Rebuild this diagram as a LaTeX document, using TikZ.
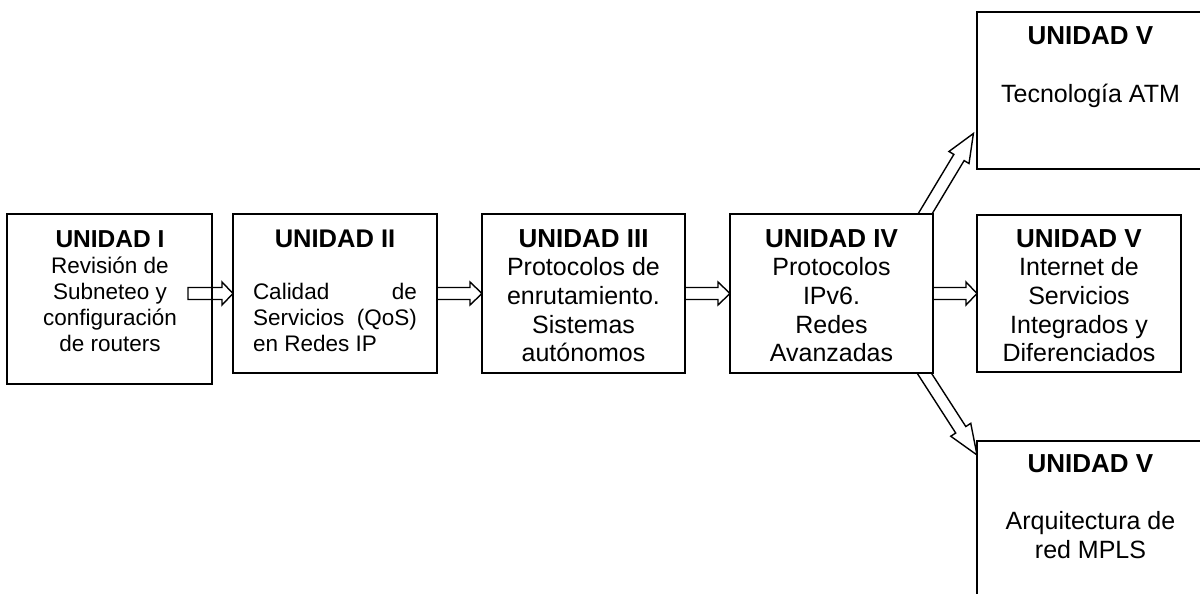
\documentclass[tikz,border=0pt]{standalone}
\usepackage{fontspec}
\setmainfont{Liberation Sans}
\usetikzlibrary{calc,backgrounds}
\newcommand\ttl[2][26]{\hbox to 0pt{\hss\fontsize{#1}{30}\selectfont\bfseries #2\hss}}
\newcommand\bl[1]{\hbox to 0pt{\hss #1\hss}}
\newcommand\blankline{\hbox{}}
\newcommand\blockarrow[5]{%
  \path ($(#2)!#5!(#1)$) coordinate (bab);
  \draw[barrow] ($(#1)!#3!90:(#2)$) -- ($(bab)!#3!-90:(#1)$) -- ($(bab)!#4!-90:(#1)$) -- (#2)
    -- ($(bab)!#4!90:(#1)$) -- ($(bab)!#3!90:(#1)$) -- ($(#1)!#3!-90:(#2)$) -- cycle;}
\begin{document}
\begin{tikzpicture}[x=1pt,y=-1pt,
  ubox/.style={draw, line width=1.8pt, fill=white, inner sep=0pt, outer sep=0pt},
  utext/.style={anchor=base, inner sep=0pt, outer sep=0pt},
  barrow/.style={draw, line width=1.4pt, fill=white, line join=miter}]
\useasboundingbox (0,0) rectangle (1200,594);
\clip (0,0) rectangle (1200,594);
% boxes
\node[ubox, fill=none, minimum width=205pt, minimum height=170pt] (u1) at (109.5,299) {};
\node[ubox, minimum width=204pt, minimum height=159pt] (u2) at (335,293.5) {};
\node[ubox, minimum width=203pt, minimum height=159pt] (u3) at (583.5,293.5) {};
\node[ubox, minimum width=203pt, minimum height=159pt] (u4) at (831.5,293.5) {};
\node[ubox, minimum width=227pt, minimum height=157pt] (u5a) at (1090.5,90.5) {};
\node[ubox, minimum width=204pt, minimum height=157pt] (u5b) at (1079,293.5) {};
\node[ubox, minimum width=227pt, minimum height=160pt] (u5c) at (1090.5,521) {};
% texts
\node[utext] (u1t) at (110,247) {\vtop{\fontsize{22.5}{26}\selectfont
  \ttl[24.5]{UNIDAD I}\bl{Revisión de}\bl{Subneteo y}\bl{configuración}\bl{de routers}}};
\node[utext] (u2t) at (335,247) {\vtop{\fontsize{22.5}{26}\selectfont
  \ttl[25.5]{UNIDAD II}\blankline
  \bl{\hbox to 164pt{Calidad\hfill de}}
  \bl{\hbox to 164pt{Servicios\hfill (QoS)}}
  \bl{\hbox to 164pt{en Redes IP\hfill}}}};
\node[utext] (u3t) at (583.5,247) {\vtop{\fontsize{25}{28.7}\selectfont
  \ttl{UNIDAD III}\bl{Protocolos de}\bl{enrutamiento.}\bl{Sistemas}\bl{autónomos}}};
\node[utext] (u4t) at (831.5,247) {\vtop{\fontsize{25}{28.7}\selectfont
  \ttl{UNIDAD IV}\bl{Protocolos}\bl{IPv6.}\bl{Redes}\bl{Avanzadas}}};
\node[utext] (u5at) at (1090.5,45) {\vtop{\fontsize{25}{28.7}\selectfont
  \ttl{UNIDAD V}\blankline\bl{Tecnología ATM}}};
\node[utext] (u5bt) at (1079,247) {\vtop{\fontsize{25}{28.7}\selectfont
  \ttl{UNIDAD V}\bl{Internet de}\bl{Servicios}\bl{Integrados y}\bl{Diferenciados}}};
\node[utext] (u5ct) at (1090.5,472) {\vtop{\fontsize{25}{28.7}\selectfont
  \ttl{UNIDAD V}\blankline\bl{Arquitectura de}\bl{red MPLS}}};
% arrow end points
\coordinate (t12) at ($(u2.west)+(-45,0)$);
\coordinate (tA) at (915.4,230);
\coordinate (hA) at ($(u5a.south west)+(-3.6,-35.5)$);
\coordinate (tC) at (915.8,360);
\coordinate (hC) at ($(u5c.north west)+(0,14)$);
\begin{scope}[on background layer]
\blockarrow{t12}{u2.west}{6pt}{11.5pt}{11pt}
\blockarrow{u2.east}{u3.west}{6pt}{11.5pt}{12pt}
\blockarrow{u3.east}{u4.west}{6pt}{11.5pt}{12pt}
\blockarrow{u4.east}{u5b.west}{6pt}{11.5pt}{11pt}
\blockarrow{tA}{hA}{6pt}{11.7pt}{28pt}
\blockarrow{tC}{hC}{6pt}{11.9pt}{30pt}
\end{scope}
\end{tikzpicture}
\end{document}
